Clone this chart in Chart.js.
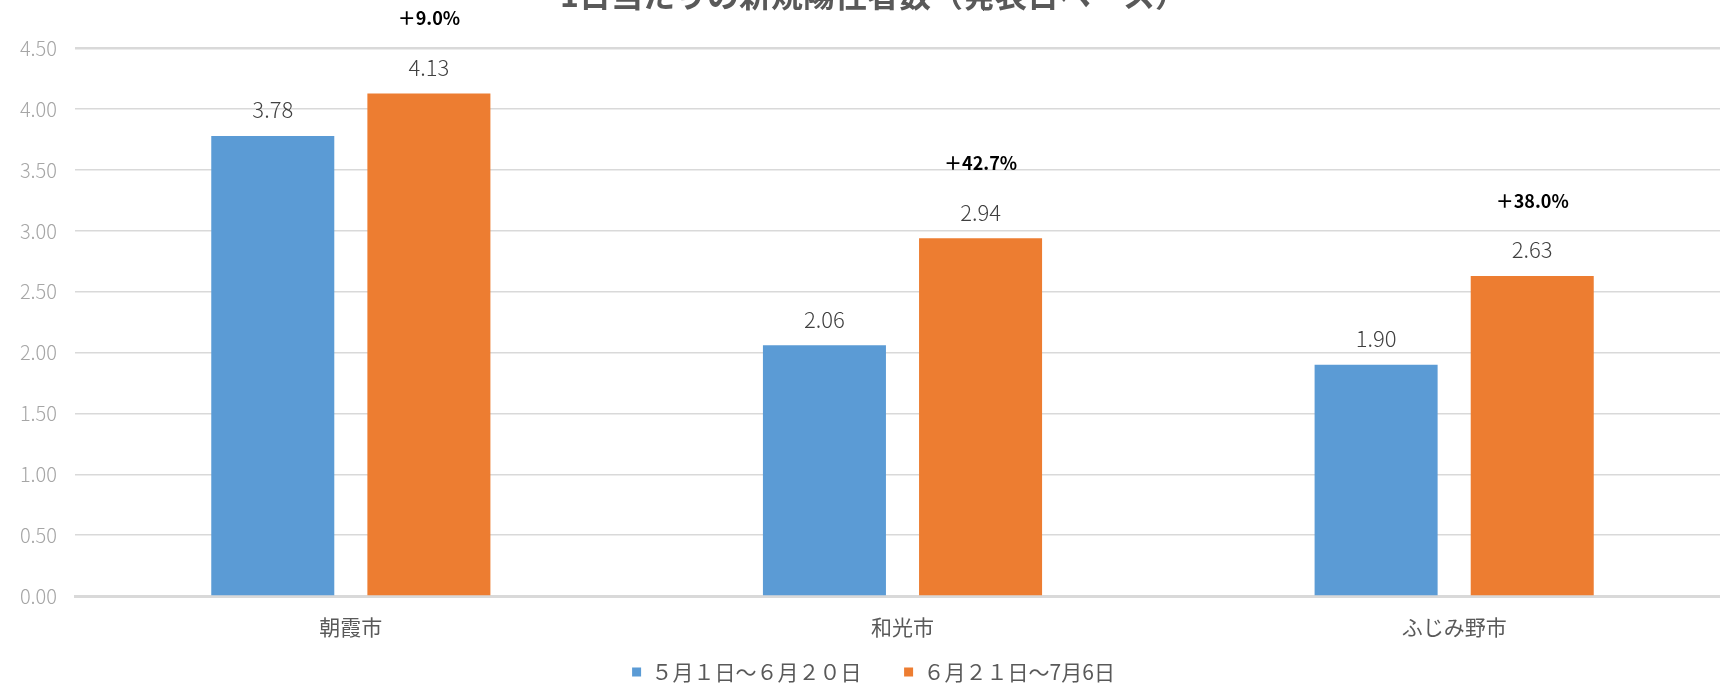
<!DOCTYPE html>
<html lang="ja">
<head>
  <meta charset="UTF-8" />
  <title>1日当たりの新規陽性者数</title>
  <script src="https://cdn.jsdelivr.net/npm/chart.js"></script>
  <style>
    body {
      margin: 0;
      overflow: hidden;
      background: #fff;
    }
    .wrap {
      width: 1730px;
      height: 687px;
    }
  </style>
</head>
<body>

<div class="wrap">
  <canvas id="chart"></canvas>
</div>

<script>
  // values
  const categories = ['朝霞市', '和光市', 'ふじみ野市'];
  const seriesLabels = ['５月１日～６月２０日', '６月２１日～7月6日'];
  const firstPeriod = [3.78, 2.06, 1.90];
  const secondPeriod = [4.13, 2.94, 2.63];
  const changeLabels = ['＋9.0%', '＋42.7%', '＋38.0%'];
  const yMax = 4.5;
  const yStep = 0.5;

  const FONT = "'Noto Sans CJK JP', 'Noto Sans', sans-serif";

  // value labels above bars, and the change labels above the second period
  const barLabels = {
    id: 'barLabels',
    afterDatasetsDraw(chart) {
      const ctx = chart.ctx;
      ctx.save();
      ctx.textAlign = 'center';
      ctx.textBaseline = 'middle';
      chart.data.datasets.forEach((ds, i) => {
        chart.getDatasetMeta(i).data.forEach((bar, j) => {
          ctx.font = '300 22px ' + FONT;
          ctx.fillStyle = '#404040';
          ctx.fillText(ds.data[j].toFixed(2), bar.x, bar.y - 26);
          if (i === 1) {
            ctx.font = 'bold 18px ' + FONT;
            ctx.fillStyle = '#000';
            ctx.fillText(changeLabels[j], bar.x, bar.y - 75);
          }
        });
      });
      ctx.restore();
    }
  };

  new Chart(document.getElementById('chart'), {
    type: 'bar',
    data: {
      labels: categories,
      datasets: [
        { label: seriesLabels[0], data: firstPeriod, backgroundColor: '#5B9BD5' },
        { label: seriesLabels[1], data: secondPeriod, backgroundColor: '#ED7D31' }
      ]
    },
    options: {
      responsive: true,
      maintainAspectRatio: false,
      animation: false,
      categoryPercentage: 0.566,
      barPercentage: 0.788,
      layout: { padding: { left: 17, right: 0, top: 0, bottom: -5.5 } },
      plugins: {
        tooltip: { enabled: false },
        title: {
          display: true,
          text: '1日当たりの新規陽性者数（発表日ベース）',
          color: '#595959',
          font: { family: FONT, size: 32, weight: 'bold' },
          padding: { top: -24, bottom: 34 }
        },
        legend: {
          position: 'bottom',
          labels: {
            color: '#595959',
            font: { family: FONT, size: 21 },
            boxWidth: 9,
            boxHeight: 9,
            padding: 21.5,
            generateLabels(chart) {
              const items = Chart.defaults.plugins.legend.labels.generateLabels(chart);
              // wider gap between the two entries
              items[0].text += '\u3000';
              return items;
            }
          }
        }
      },
      scales: {
        x: {
          afterFit(scale) { scale.height = 44; },
          grid: { display: false, drawTicks: false },
          border: { display: true, color: '#d9d9d9', width: 3 },
          ticks: {
            color: '#595959',
            padding: 23,
            font: { family: FONT, size: 21, lineHeight: 0.76 }
          }
        },
        y: {
          min: 0,
          max: yMax,
          afterFit(scale) { scale.width = 58; },
          grid: {
            color: '#d9d9d9',
            drawTicks: false,
            lineWidth: ctx => (ctx.index === 9 ? 2.5 : 1.5)
          },
          border: { display: false },
          ticks: {
            stepSize: yStep,
            padding: 18,
            color: '#a6a6a6',
            font: { family: FONT, size: 20, weight: '300' },
            callback: v => v.toFixed(2)
          }
        }
      }
    },
    plugins: [barLabels]
  });
</script>

</body>
</html>
